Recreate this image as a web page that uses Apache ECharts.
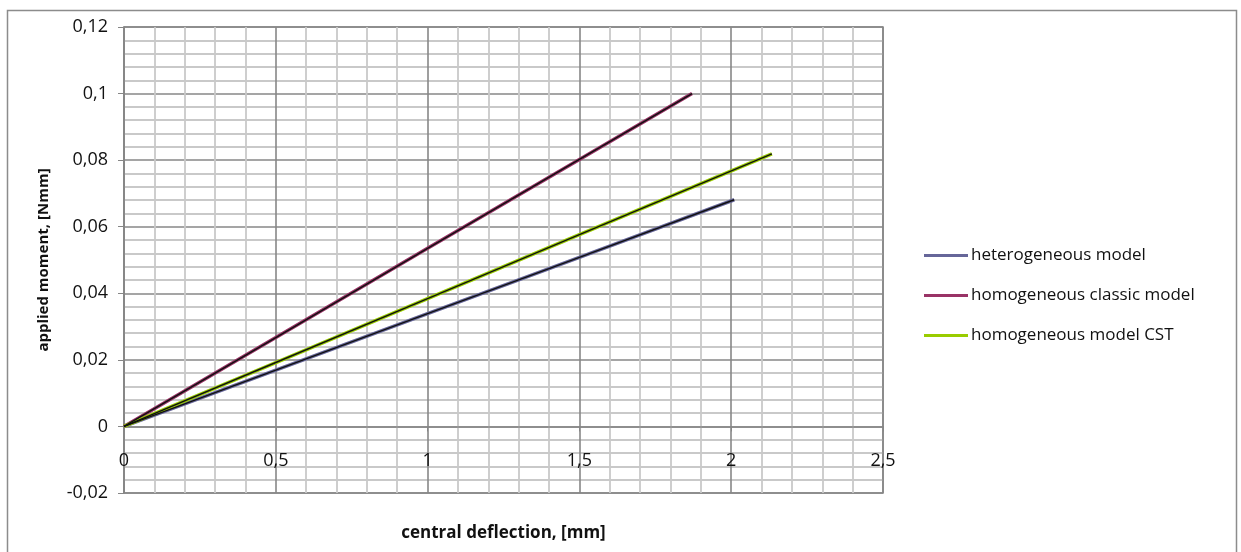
<!DOCTYPE html>
<html>
<head>
<meta charset="utf-8">
<script src="https://cdn.jsdelivr.net/npm/echarts@6/dist/echarts.min.js"></script>
<style>
  html, body { margin: 0; padding: 0; background: #fff; }
  #chart { width: 1241px; height: 552px; }
</style>
</head>
<body>
<div id="chart"></div>
<script>
// Moment–deflection curves for three plate models
const seriesNames = ['heterogeneous model', 'homogeneous classic model', 'homogeneous model CST'];

const heteroDeflection = [0, 0.5, 1.0, 1.5, 2.01];
const heteroMoment     = [0, 0.0169, 0.0339, 0.0508, 0.0681];

const classicDeflection = [0, 0.5, 1.0, 1.5, 1.871];
const classicMoment     = [0, 0.0267, 0.0535, 0.0802, 0.1];

const cstDeflection = [0, 0.5, 1.0, 1.5, 2.134];
const cstMoment     = [0, 0.0192, 0.0384, 0.0576, 0.0819];

const xTicks = [0, 0.5, 1, 1.5, 2, 2.5];
const yTicks = [-0.02, 0, 0.02, 0.04, 0.06, 0.08, 0.1, 0.12];

const colors = ['#666699', '#993366', '#99cc00'];

function pairs(xs, ys) { return xs.map((x, i) => [x, ys[i]]); }
function commaNum(v) {
  return String(parseFloat(Number(v).toFixed(4))).replace('.', ',');
}

const curves = [
  pairs(heteroDeflection, heteroMoment),
  pairs(classicDeflection, classicMoment),
  pairs(cstDeflection, cstMoment)
];

const series = [];
curves.forEach((data, i) => {
  series.push({
    name: seriesNames[i], type: 'line', data, showSymbol: false, symbol: 'none',
    lineStyle: { color: colors[i], width: 3.5 }, itemStyle: { color: colors[i] }, z: 3
  });
});
curves.forEach((data, i) => {
  series.push({
    name: seriesNames[i] + ' core', type: 'line', data, showSymbol: false, symbol: 'none',
    lineStyle: { color: '#111', width: 1.4 }, z: 4, silent: true
  });
});

// plot box
const gridTop = 27, gridBottom = 59, chartH = 552;
const plotH = chartH - gridTop - gridBottom;
// the x axis crosses the y axis at zero
const yMin = yTicks[0], yMax = yTicks[yTicks.length - 1];
const zeroOffset = -plotH * (0 - yMin) / (yMax - yMin);

const font = '"Open Sans", Lato, sans-serif';
const chart = echarts.init(document.getElementById('chart'), null, { renderer: 'canvas' });
chart.setOption({
  animation: false,
  textStyle: { fontFamily: font },
  graphic: [{
    type: 'rect', shape: { x: 7.5, y: 10.5, width: 1229, height: 545 },
    style: { fill: 'none', stroke: '#8c8c8c', lineWidth: 1.5 }, silent: true
  }],
  grid: {
    left: 124, right: 358, top: gridTop, bottom: gridBottom,
    containLabel: false, outerBoundsMode: 'none',
    show: true, borderColor: '#868686', borderWidth: 1.5, backgroundColor: 'transparent'
  },
  legend: {
    orient: 'vertical', left: 919, top: 242,
    data: seriesNames, icon: 'rect', itemWidth: 44, itemHeight: 3, itemGap: 23,
    textStyle: { fontFamily: font, fontSize: 17, color: '#111', padding: [0, 0, 0, -2] }
  },
  xAxis: {
    type: 'value', min: xTicks[0], max: xTicks[xTicks.length - 1], interval: 0.5,
    position: 'bottom', offset: zeroOffset,
    name: 'central deflection, [mm]', nameLocation: 'middle', nameGap: 98,
    nameTextStyle: { fontFamily: font, fontSize: 17, fontWeight: 'bold', color: '#111' },
    axisLine: { onZero: false, lineStyle: { color: '#868686', width: 1.5 } },
    axisTick: { show: true, length: 5, lineStyle: { color: '#868686' } },
    axisLabel: { margin: 25, fontSize: 18, color: '#111', formatter: commaNum },
    splitLine: { show: true, lineStyle: { color: '#878787', width: 1.6 } },
    minorTick: { show: false, splitNumber: 5 },
    minorSplitLine: { show: true, lineStyle: { color: '#c9c9c9', width: 1.8 } }
  },
  yAxis: {
    type: 'value', min: yMin, max: yMax, interval: 0.02,
    name: 'applied moment, [Nmm]', nameLocation: 'middle', nameGap: 73,
    nameTextStyle: { fontFamily: font, fontSize: 15, fontWeight: 'bold', color: '#111' },
    axisLine: { show: true, onZero: false, lineStyle: { color: '#868686', width: 1.5 } },
    axisTick: { show: true, length: 6, lineStyle: { color: '#868686' } },
    axisLabel: { margin: 16, fontSize: 18, color: '#111', formatter: commaNum },
    splitLine: { show: true, lineStyle: { color: '#878787', width: 1.6 } },
    minorTick: { show: false, splitNumber: 5 },
    minorSplitLine: { show: true, lineStyle: { color: '#c9c9c9', width: 1.8 } }
  },
  series
});
</script>
</body>
</html>
